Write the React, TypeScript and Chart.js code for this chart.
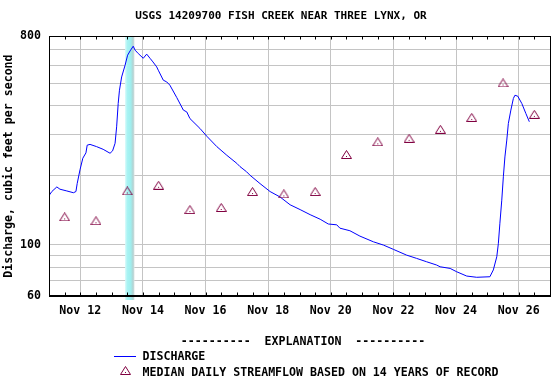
import React, { useEffect, useRef } from 'react';
import { Chart, registerables } from 'chart.js';

Chart.register(...registerables);

const TITLE = 'USGS 14209700 FISH CREEK NEAR THREE LYNX, OR';
const Y_TITLE = 'Discharge, cubic feet per second';
const MONTH = 'Nov';
const X_MIN = 11;
const X_MAX = 27;
const X_TICK_DAYS = [12, 14, 16, 18, 20, 22, 24, 26];
const X_MINOR_DAYS = [11.5, 12, 12.5, 13, 13.5, 14, 14.5, 15, 15.5, 16, 16.5, 17, 17.5, 18, 18.5, 19, 19.5, 20, 20.5, 21, 21.5, 22, 22.5, 23, 23.5, 24, 24.5, 25, 25.5, 26, 26.5];
const Y_MIN = 60;
const Y_MAX = 800;
const Y_GRID_VALUES = [60, 70, 80, 90, 100, 200, 300, 400, 500, 600, 700, 800];
const Y_LABELED = [60, 100, 800];

const MEDIAN_DAYS = [11.5, 12.5, 13.5, 14.5, 15.5, 16.5, 17.5, 18.5, 19.5, 20.5, 21.5, 22.5, 23.5, 24.5, 25.5, 26.5];
const MEDIAN_VALUES = [132, 127, 171, 181, 142, 145, 170, 166, 170, 246, 279, 289, 316, 356, 502, 367];

const DISCHARGE_DAYS = [
  11.01, 11.09, 11.25, 11.35, 11.57, 11.78, 11.86, 11.9, 11.99, 12.08, 12.18, 12.22, 12.31, 12.52, 12.73, 12.95,
  13.03, 13.11, 13.16, 13.21, 13.25, 13.32, 13.43, 13.51, 13.59, 13.69, 13.75, 13.85, 14.01, 14.12, 14.23, 14.32,
  14.44, 14.49, 14.65, 14.76, 14.86, 15.08, 15.29, 15.4, 15.5, 15.82, 16.04, 16.36, 16.68, 17.0, 17.1, 17.31,
  17.42, 17.74, 18.06, 18.38, 18.7, 19.02, 19.34, 19.66, 19.92, 20.19, 20.29, 20.61, 20.93, 21.36, 21.68, 22.0,
  22.42, 22.74, 23.06, 23.38, 23.49, 23.81, 24.02, 24.34, 24.66, 25.08, 25.19, 25.3, 25.35, 25.4, 25.46, 25.51,
  25.56, 25.62, 25.67, 25.75, 25.83, 25.88, 25.97, 26.1, 26.23, 26.34,
];
const DISCHARGE_VALUES = [
  164, 170, 178, 174, 171, 168, 170, 184, 211, 237, 250, 270, 272, 266, 259, 249,
  255, 275, 324, 409, 467, 533, 599, 662, 691, 724, 696, 673, 642, 669, 641, 619,
  589, 570, 516, 507, 491, 434, 383, 376, 352, 319, 295, 266, 244, 225, 218, 207,
  200, 184, 170, 161, 149, 142, 135, 129, 123, 122, 118, 115, 109, 103, 99.7, 95.5,
  90.2, 87.3, 84.4, 81.7, 80.3, 79.0, 76.4, 73.2, 72.3, 72.7, 77.8, 88.7, 101, 124, 156, 197,
  240, 284, 335, 383, 430, 444, 440, 409, 370, 341,
];

const HIGHLIGHT_DAYS = [13.43, 13.73];

const LEGEND_HEADER = '----------  EXPLANATION  ----------';
const LEGEND_LINE = 'DISCHARGE';
const LEGEND_MARK = 'MEDIAN DAILY STREAMFLOW BASED ON 14 YEARS OF RECORD';

const FONT = '"DejaVu Sans Mono", monospace';
const MAROON = '#800040';

function makeTriangle(): HTMLCanvasElement {
  const c = document.createElement('canvas');
  c.width = 11;
  c.height = 9;
  const g = c.getContext('2d')!;
  g.strokeStyle = MAROON;
  g.lineWidth = 1;
  g.beginPath();
  g.moveTo(5.5, 0.5);
  g.lineTo(10.5, 8.5);
  g.lineTo(0.5, 8.5);
  g.closePath();
  g.stroke();
  g.fillStyle = MAROON;
  g.fillRect(5, 6, 1, 1);
  return c;
}

export default function App() {
  const ref = useRef<HTMLCanvasElement | null>(null);

  useEffect(() => {
    if (!ref.current) return;
    const tri = makeTriangle();

    const framePlugin = {
      id: 'frameAndExtras',
      beforeDatasetsDraw(chart: any) {
        const { ctx, chartArea, scales } = chart;
        const x0 = scales.x.getPixelForValue(HIGHLIGHT_DAYS[0]);
        const x1 = scales.x.getPixelForValue(HIGHLIGHT_DAYS[1]);
        ctx.save();
        const grad = ctx.createLinearGradient(x0, 0, x1, 0);
        grad.addColorStop(0, '#d6fafa');
        grad.addColorStop(0.25, '#a8f3f3');
        grad.addColorStop(0.6, '#9eeeee');
        grad.addColorStop(0.85, '#b4d2d2');
        grad.addColorStop(1, '#dde6e6');
        ctx.fillStyle = grad;
        ctx.fillRect(x0, chartArea.top, x1 - x0, chartArea.bottom - chartArea.top + 4);
        ctx.restore();
      },
      afterDatasetsDraw(chart: any) {
        const { ctx, chartArea, scales } = chart;
        const l = Math.round(chartArea.left) + 0.5;
        const r = Math.round(chartArea.right) + 0.5;
        const t = Math.round(chartArea.top) + 0.5;
        const b = Math.round(chartArea.bottom) + 0.5;
        ctx.save();
        ctx.strokeStyle = '#000';
        ctx.lineWidth = 1;
        ctx.strokeRect(l, t, r - l, b - t);
        ctx.beginPath();
        ctx.moveTo(l, b - 1);
        ctx.lineTo(r, b - 1);
        for (const d of X_MINOR_DAYS) {
          const px = Math.round(scales.x.getPixelForValue(d)) + 0.5;
          ctx.moveTo(px, t);
          ctx.lineTo(px, t + 3);
          ctx.moveTo(px, b);
          ctx.lineTo(px, b - 4);
        }
        ctx.stroke();
        ctx.restore();
      },
      afterDraw(chart: any) {
        const { ctx } = chart;
        ctx.save();
        ctx.font = 'bold 11.6px ' + FONT;
        ctx.fillStyle = '#000';
        ctx.textBaseline = 'middle';
        ctx.textAlign = 'center';
        ctx.fillText(LEGEND_HEADER, 303, 341.5);
        ctx.textAlign = 'left';
        ctx.fillText(LEGEND_LINE, 142.5, 357);
        ctx.fillText(LEGEND_MARK, 142.5, 372.5);
        ctx.strokeStyle = '#0000ff';
        ctx.lineWidth = 1;
        ctx.beginPath();
        ctx.moveTo(114, 356.5);
        ctx.lineTo(136, 356.5);
        ctx.stroke();
        ctx.drawImage(tri, 120, 366);
        ctx.restore();
      },
    };

    const chart = new Chart(ref.current, {
      type: 'line',
      data: {
        datasets: [
          {
            label: LEGEND_LINE,
            data: DISCHARGE_DAYS.map((d, i) => ({ x: d, y: DISCHARGE_VALUES[i] })),
            borderColor: '#0000ff',
            borderWidth: 1,
            pointRadius: 0,
            tension: 0,
            fill: false,
            order: 2,
          },
          {
            label: LEGEND_MARK,
            data: MEDIAN_DAYS.map((d, i) => ({ x: d, y: MEDIAN_VALUES[i] })),
            showLine: false,
            pointStyle: tri as any,
            pointRadius: 5,
            order: 1,
          },
        ],
      },
      options: {
        responsive: false,
        animation: false,
        events: [],
        layout: { padding: { left: 6, right: 0, top: 0, bottom: 65 } },
        plugins: {
          legend: { display: false },
          tooltip: { enabled: false },
          title: {
            display: true,
            text: TITLE,
            color: '#000',
            font: { family: FONT, size: 11, weight: 'bold' },
            padding: { top: 10, bottom: 13 },
          },
        },
        scales: {
          x: {
            type: 'linear',
            min: X_MIN,
            max: X_MAX,
            afterBuildTicks: (scale: any) => {
              scale.ticks = X_TICK_DAYS.map((v) => ({ value: v }));
            },
            afterFit: (scale: any) => {
              scale.height = 20;
            },
            border: { display: false },
            grid: { color: '#c4c4c4', lineWidth: 1, drawTicks: false },
            ticks: {
              autoSkip: false,
              maxRotation: 0,
              padding: 8,
              color: '#000',
              font: { family: FONT, size: 11.6, weight: 'bold' },
              callback: (v: any) => MONTH + ' ' + v,
            },
          },
          y: {
            type: 'logarithmic',
            min: Y_MIN,
            max: Y_MAX,
            afterBuildTicks: (scale: any) => {
              scale.ticks = Y_GRID_VALUES.map((v) => ({ value: v }));
            },
            afterFit: (scale: any) => {
              scale.width = 43;
            },
            border: { display: false },
            grid: { color: '#c4c4c4', lineWidth: 1, drawTicks: false },
            title: {
              display: true,
              text: Y_TITLE,
              color: '#000',
              font: { family: FONT, size: 11.6, weight: 'bold' },
              padding: { top: -4, bottom: 0 },
            },
            ticks: {
              autoSkip: false,
              padding: 8,
              color: '#000',
              font: { family: FONT, size: 11.6, weight: 'bold' },
              callback: (v: any) => (Y_LABELED.includes(Number(v)) ? String(v) : ''),
            },
          },
          y2: {
            type: 'linear',
            position: 'right',
            display: true,
            afterFit: (scale: any) => {
              scale.width = 6;
            },
            border: { display: false },
            grid: { display: false, drawTicks: false },
            ticks: { display: false },
          },
        },
      },
      plugins: [framePlugin],
    });

    return () => chart.destroy();
  }, []);

  return (
    <div style={{ position: 'absolute', left: 0, top: 0, width: 556, height: 381, background: '#fff' }}>
      <canvas ref={ref} width={556} height={381} style={{ display: 'block' }} />
    </div>
  );
}
